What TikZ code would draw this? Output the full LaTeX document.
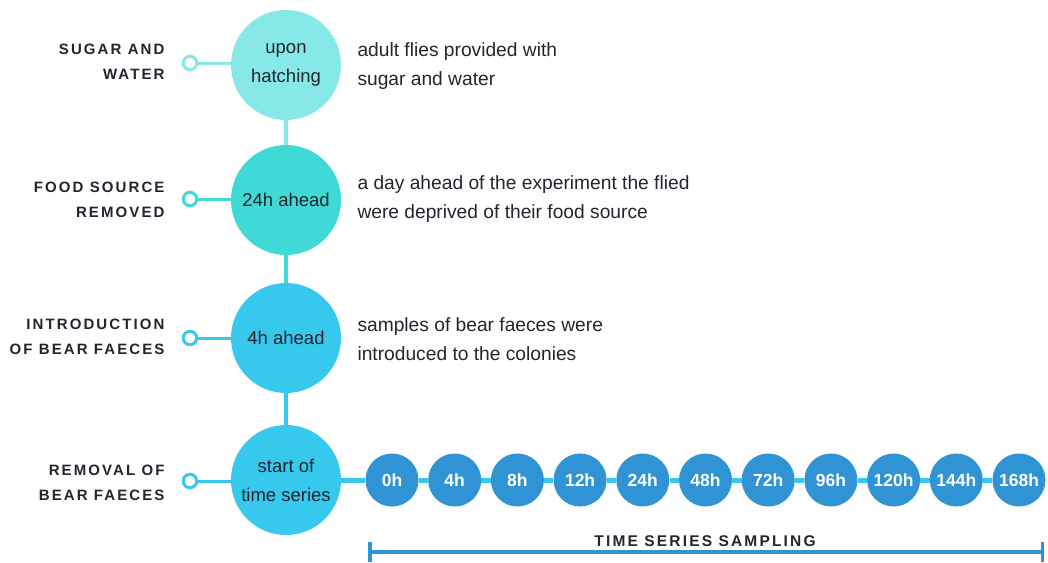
\documentclass[tikz,border=0pt]{standalone}
\usepackage{fontspec}
\setmainfont{Liberation Sans}
\newfontfamily\capsfont[LetterSpace=14]{Liberation Sans}
\usetikzlibrary{arrows.meta}

\definecolor{cA}{HTML}{86E9E8}
\definecolor{cB}{HTML}{3FDAD6}
\definecolor{cC}{HTML}{37C8EE}
\definecolor{cD}{HTML}{2F93D4}
\definecolor{ink}{HTML}{24242E}

\tikzset{
  bigstep/.style={circle, fill=#1, minimum size=110pt, inner sep=0pt, align=center,
    text=ink, font=\fontsize{18.5}{29}\selectfont},
  ring/.style={circle, draw=#1, line width=3pt, fill=white, minimum size=13.5pt, inner sep=0pt},
  link/.style={draw=#1, line width=3pt},
  spine/.style={draw=#1, line width=4pt},
  caption/.style={anchor=east, align=right, text=ink,
    font=\capsfont\bfseries\fontsize{15}{25}\selectfont},
  note/.style={anchor=west, align=left, text=ink, font=\fontsize{19.2}{29}\selectfont},
  sample/.style={circle, fill=cD, minimum size=53pt, inner sep=0pt, text=white,
    font=\bfseries\fontsize{17.5}{17.5}\selectfont},
  track/.style={draw=cC, line width=5pt},
  bracket/.style={draw=cD, line width=3.5pt, {Bar[width=20pt]}-{Bar[width=20pt]}}
}

\begin{document}
\begin{tikzpicture}[x=1pt, y=-1pt]
\useasboundingbox (0,0) rectangle (1048,562);

% main steps
\node[bigstep=cA] (s1) at (286,65)  {upon\\hatching};
\node[bigstep=cB] (s2) at (286,200) {24h ahead};
\node[bigstep=cC] (s3) at (286,338) {4h ahead};
\node[bigstep=cC] (s4) at (286,480) {start of\\time series};

% spine between the steps
\draw[spine=cA] (s1) -- (s2);
\draw[spine=cB] (s2) -- (s3);
\draw[spine=cC] (s3) -- (s4);

% side markers
\node[ring=cA] (r1) at (190,63)  {};
\node[ring=cB] (r2) at (190,199) {};
\node[ring=cC] (r3) at (190,338) {};
\node[ring=cC] (r4) at (190,481) {};
\draw[link=cA] (r1) -- (r1 -| s1.west);
\draw[link=cB] (r2) -- (r2 -| s2.west);
\draw[link=cC] (r3) -- (r3 -| s3.west);
\draw[link=cC] (r4) -- (r4 -| s4.west);

% step captions
\node[caption] (l1) at (168,62)  {SUGAR AND\\WATER};
\node[caption] (l2) at (168,200) {FOOD SOURCE\\REMOVED};
\node[caption] (l3) at (168,337) {INTRODUCTION\\OF BEAR FAECES};
\node[caption] (l4) at (168,483) {REMOVAL OF\\BEAR FAECES};

% step descriptions
\node[note] (n1) at (354,66)  {adult flies provided with\\sugar and water};
\node[note] (n2) at (354,199) {a day ahead of the experiment the flied\\were deprived of their food source};
\node[note] (n3) at (354,339) {samples of bear faeces were\\introduced to the colonies};

% sampling points
\foreach \lab [count=\i from 0] in {0h,4h,8h,12h,24h,48h,72h,96h,120h,144h,168h}
  \node[sample] (t\i) at ({392+\i*62.7},480) {\lab};

\draw[track] (s4) -- (t0);
\foreach \i [evaluate=\i as \j using int(\i+1)] in {0,...,9}
  \draw[track] (t\i) -- (t\j);

% sampling span
\coordinate (b1) at (368,552);
\coordinate (b2) at (1044,552);
\draw[bracket] (b1) -- (b2);
\node[text=ink, font=\capsfont\bfseries\fontsize{15.5}{17}\selectfont] (span) at (705,541) {TIME SERIES SAMPLING};
\end{tikzpicture}
\end{document}
